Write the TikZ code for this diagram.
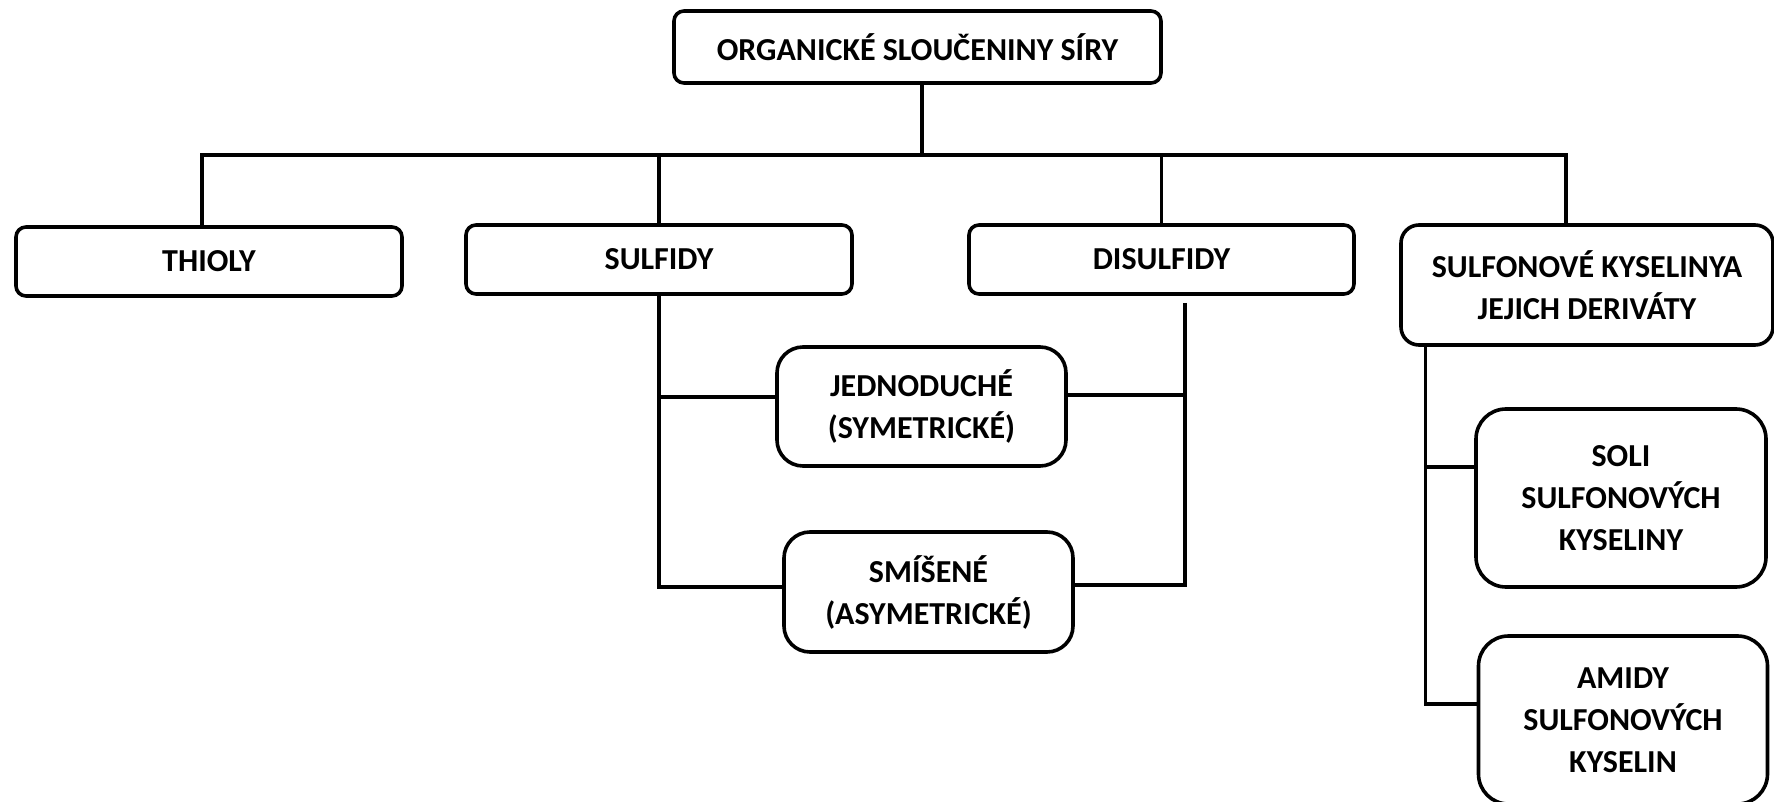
\documentclass[tikz,border=0pt]{standalone}
\usepackage{fontspec}
\setmainfont{Carlito}
\usetikzlibrary{positioning}

\tikzset{
  box/.style={draw, line width=1.8pt, rounded corners=5pt, align=center, inner sep=2pt,
    font=\bfseries\fontsize{16}{21}\selectfont},
  bigbox/.style={box, rounded corners=13pt},
  link/.style={line width=1.7pt},
}

\begin{document}
\begin{tikzpicture}[x=0.5pt, y=-0.5pt]
  \clip (0,0) rectangle (1774,802);

  % top level
  \node[box, minimum width=243.5pt, minimum height=36pt] (root) at (917.5,47) {ORGANICKÉ SLOUČENINY SÍRY};

  % main groups
  \node[box, minimum width=193pt, minimum height=34.5pt] (thioly) at (209,261.5) {THIOLY};
  \node[box, minimum width=193pt, minimum height=34.5pt] (sulfidy) at (659,259.5) {SULFIDY};
  \node[box, minimum width=192.5pt, minimum height=34.5pt] (disulfidy) at (1161.5,259.5) {DISULFIDY};
  \node[bigbox, rounded corners=9pt, minimum width=186pt, minimum height=60pt] (sulfkys) at (1587,285)
    {SULFONOVÉ KYSELINYA\\JEJICH DERIVÁTY};

  % sulfidy / disulfidy subtypes
  \node[bigbox, minimum width=144.5pt, minimum height=59.5pt] (jedno) at (921.5,406.5) {JEDNODUCHÉ\\(SYMETRICKÉ)};
  \node[bigbox, minimum width=144.5pt, minimum height=60pt] (smisene) at (928.5,592) {SMÍŠENÉ\\(ASYMETRICKÉ)};

  % derivatives
  \node[bigbox, rounded corners=15pt, minimum width=145pt, minimum height=89pt] (soli) at (1621,498)
    {SOLI\\SULFONOVÝCH\\KYSELINY};
  \node[bigbox, rounded corners=15pt, minimum width=144.5pt, minimum height=84pt] (amidy) at (1623,720)
    {AMIDY\\SULFONOVÝCH\\KYSELIN};

  % bus from the top box
  \coordinate (rs) at ([xshift=2.25pt]root.south);
  \coordinate (bus) at (922,155);
  \draw[link] (rs) -- (bus);
  \draw[link] ([xshift=-3.5pt]thioly.north) |- (bus) -| ([xshift=-10.5pt]sulfkys.north);
  \draw[link] (sulfidy.north) -- (sulfidy.north |- bus);
  \draw[link] (disulfidy.north) -- (disulfidy.north |- bus);

  % sulfidy branch
  \coordinate (jl) at ([yshift=4.75pt]jedno.west);
  \draw[link] (sulfidy.south) |- ([yshift=2.5pt]smisene.west);
  \draw[link] (jl) -- (jl -| sulfidy.south);

  % disulfidy branch
  \coordinate (dtop) at ([xshift=11.75pt,yshift=-3.5pt]disulfidy.south);
  \coordinate (jr) at ([yshift=5.75pt]jedno.east);
  \draw[link] (dtop) |- ([yshift=3.5pt]smisene.east);
  \draw[link] (jr) -- (jr -| dtop);

  % sulfonove kyseliny branch
  \coordinate (stop) at ([xshift=13pt]sulfkys.south west);
  \draw[link] (stop) |- ([yshift=15.5pt]soli.west);
  \draw[link] (stop) |- ([yshift=8pt]amidy.west);
\end{tikzpicture}
\end{document}
